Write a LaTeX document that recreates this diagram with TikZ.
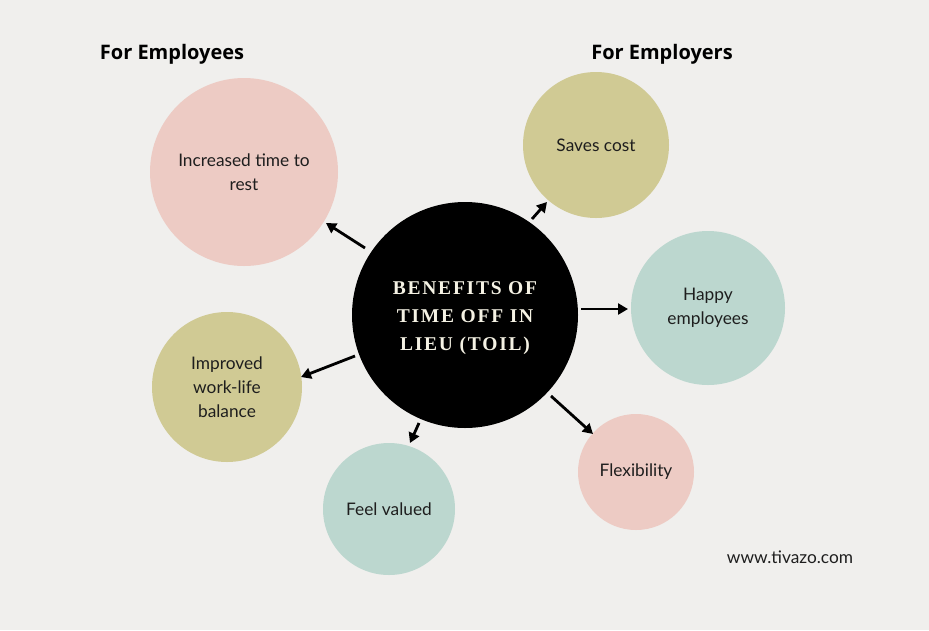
\documentclass[tikz,border=0pt]{standalone}
\usepackage{fontspec}
\setmainfont{Lato}
\newfontfamily\headfont{Open Sans}
\newfontfamily\titlefont[LetterSpace=9]{Liberation Serif}
\usetikzlibrary{arrows.meta}
\definecolor{bgc}{HTML}{F0EFED}
\definecolor{pinkc}{HTML}{EDCBC4}
\definecolor{olivec}{HTML}{D0CA94}
\definecolor{tealc}{HTML}{BCD7CF}
\definecolor{titlec}{HTML}{F5F2E4}
\definecolor{txtc}{HTML}{1E1E1E}
\begin{document}
\begin{tikzpicture}[x=1pt,y=-1pt,
  bubble/.style={circle,inner sep=0pt,align=center,text=txtc,font=\fontsize{17.3}{24}\selectfont},
  arr/.style={-{Triangle[length=10pt,width=11pt]},line width=2.8pt,black},
  head/.style={font=\headfont\bfseries\fontsize{20}{24}\selectfont,text=black}]
\fill[bgc] (0,0) rectangle (929,630);
\useasboundingbox (0,0) rectangle (929,630);
\node[circle,fill=black,minimum size=226pt,inner sep=0pt] (c) at (465,315) {};
\node[align=center,text=titlec,
  font=\titlefont\bfseries\fontsize{19.5}{28}\selectfont] (ct) at (465,318.5) {BENEFITS OF\\TIME OFF IN\\LIEU (TOIL)};
\node[bubble,fill=pinkc,minimum size=188pt] (a) at (244,172) {Increased time to\\rest};
\node[bubble,fill=olivec,minimum size=146pt] (b) at (596,145) {Saves cost};
\node[bubble,fill=tealc,minimum size=154pt] (h) at (708,308) {Happy\\employees};
\node[bubble,fill=olivec,minimum size=150pt] (w) at (227,387) {Improved\\work-life\\balance};
\node[bubble,fill=tealc,minimum size=132pt] (f) at (389,509) {Feel valued};
\node[bubble,fill=pinkc,minimum size=116pt] (x) at (636,472) {Flexibility};
\coordinate (a1) at (365,248); \coordinate (a2) at (326,223);
\coordinate (b1) at (532,219); \coordinate (b2) at (547,202);
\coordinate (h1) at (581,309); \coordinate (h2) at (628,309);
\coordinate (x1) at (551,396); \coordinate (x2) at (593,434);
\coordinate (w1) at (355,356); \coordinate (w2) at (301,377);
\coordinate (f1) at (419,423); \coordinate (f2) at (410,443);
\draw[arr] (a1) -- (a2);
\draw[arr] (b1) -- (b2);
\draw[arr] (h1) -- (h2);
\draw[arr] (x1) -- (x2);
\draw[arr] (w1) -- (w2);
\draw[arr] (f1) -- (f2);
\node[head] (he) at (172,54) {For Employees};
\node[head] (hr) at (662,54) {For Employers};
\node[font=\fontsize{17.3}{20}\selectfont,text=txtc] (url) at (790,557) {www.tivazo.com};
\end{tikzpicture}
\end{document}
